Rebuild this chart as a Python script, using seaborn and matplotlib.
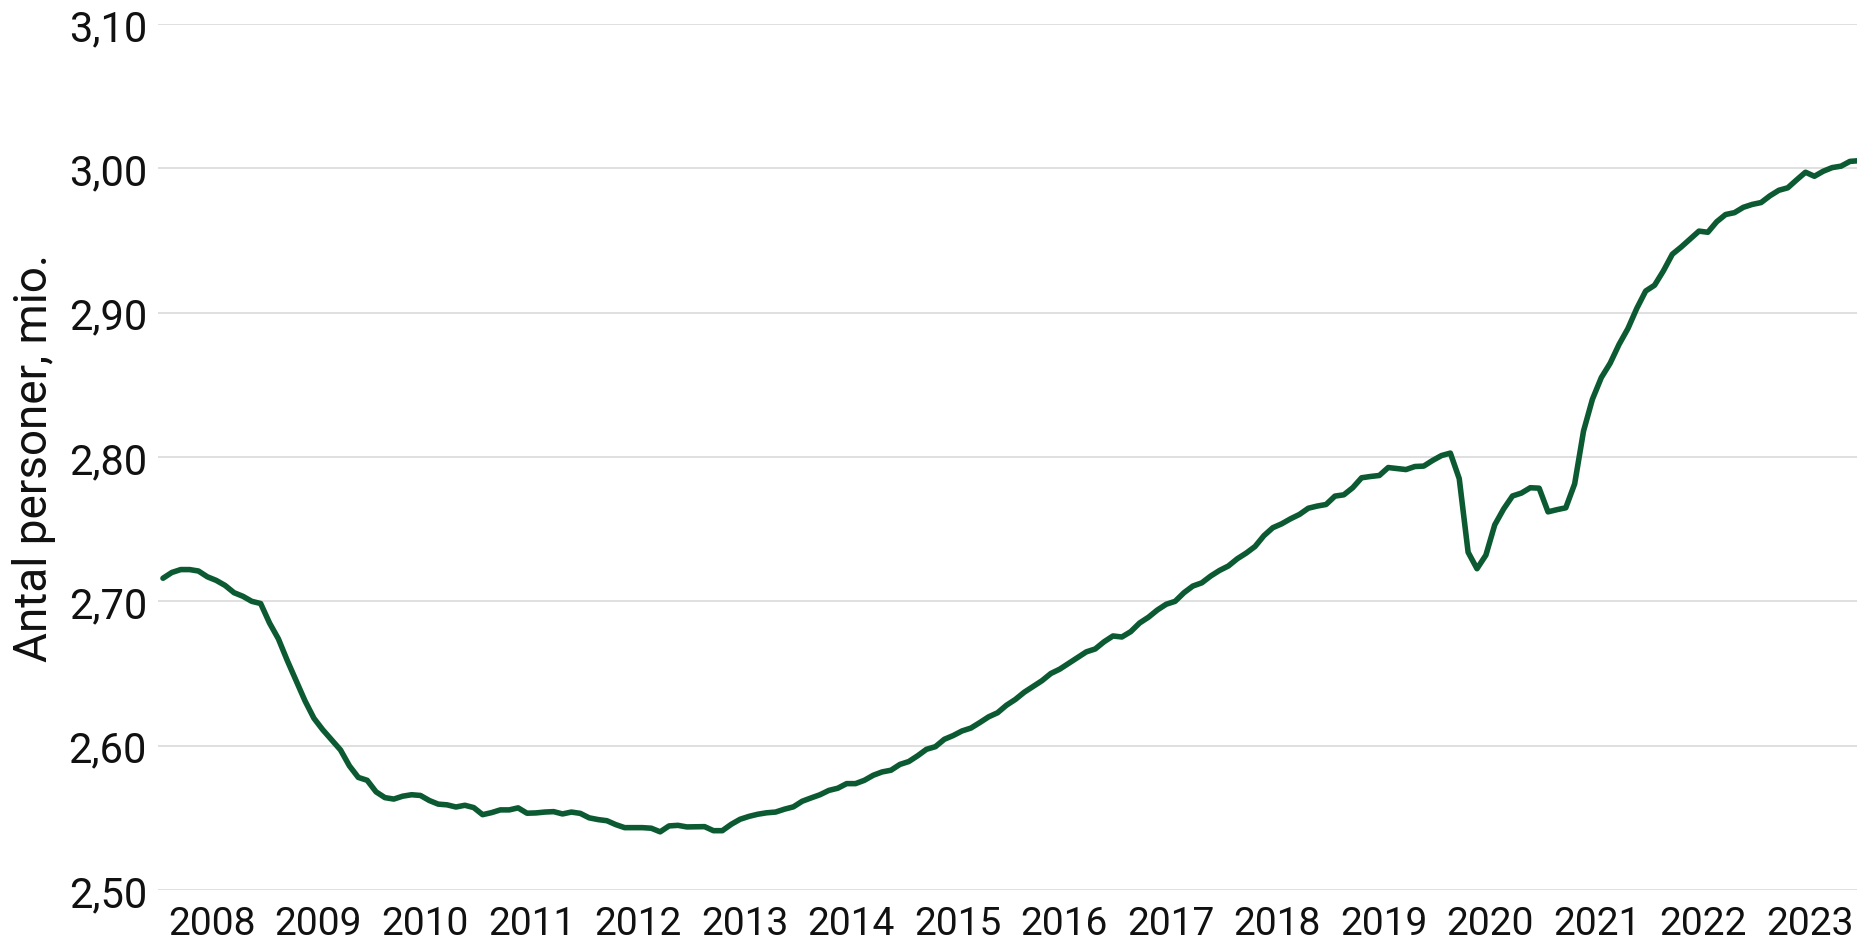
import matplotlib
matplotlib.use("Agg")
import matplotlib.pyplot as plt
from matplotlib.ticker import FuncFormatter
import numpy as np
import pandas as pd
import seaborn as sns

# Beskaeftigede, mio. personer, maanedlig jan 2008 - dec 2023
y2008 = [2.716, 2.720, 2.722, 2.722, 2.721, 2.717, 2.7145, 2.711, 2.706, 2.7035, 2.700, 2.6985]
y2009 = [2.685, 2.674, 2.659, 2.645, 2.631, 2.619, 2.611, 2.604, 2.597, 2.586, 2.578, 2.576]
y2010 = [2.568, 2.564, 2.563, 2.565, 2.566, 2.5655, 2.562, 2.5595, 2.559, 2.5575, 2.5587, 2.5571]
y2011 = [2.5522, 2.5536, 2.5555, 2.5555, 2.5569, 2.5532, 2.5534, 2.554, 2.5543, 2.5527, 2.554, 2.5531]
y2012 = [2.550, 2.5488, 2.548, 2.5453, 2.5432, 2.5432, 2.5432, 2.5428, 2.5403, 2.5444, 2.5448, 2.5437]
y2013 = [2.5438, 2.5439, 2.5411, 2.5411, 2.5455, 2.549, 2.551, 2.5525, 2.5535, 2.554, 2.556, 2.5576]
y2014 = [2.5615, 2.5638, 2.566, 2.569, 2.5705, 2.5737, 2.5737, 2.576, 2.5795, 2.5818, 2.583, 2.587]
y2015 = [2.589, 2.593, 2.5975, 2.5993, 2.6044, 2.607, 2.6102, 2.6122, 2.616, 2.620, 2.6228, 2.628]
y2016 = [2.632, 2.637, 2.641, 2.645, 2.650, 2.653, 2.657, 2.661, 2.665, 2.667, 2.672, 2.676]
y2017 = [2.6753, 2.679, 2.685, 2.689, 2.694, 2.698, 2.700, 2.706, 2.7106, 2.7128, 2.7175, 2.7214]
y2018 = [2.7245, 2.7295, 2.7334, 2.738, 2.7455, 2.751, 2.7537, 2.7572, 2.7602, 2.7645, 2.766, 2.7671]
y2019 = [2.7729, 2.7738, 2.7787, 2.7856, 2.7865, 2.7872, 2.7927, 2.792, 2.7913, 2.7934, 2.7937, 2.7976]
y2020 = [2.801, 2.8027, 2.785, 2.734, 2.7226, 2.732, 2.753, 2.764, 2.773, 2.775, 2.7787, 2.7784]
y2021 = [2.762, 2.7635, 2.7648, 2.7814, 2.818, 2.840, 2.855, 2.865, 2.878, 2.889, 2.903, 2.915]
y2022 = [2.919, 2.929, 2.9405, 2.9455, 2.951, 2.9565, 2.9557, 2.963, 2.968, 2.9693, 2.973, 2.975]
y2023 = [2.9763, 2.981, 2.9848, 2.9865, 2.992, 2.9973, 2.9945, 2.998, 3.0005, 3.0015, 3.0048, 3.0053]

years = list(range(2008, 2024))
yticks = [2.50, 2.60, 2.70, 2.80, 2.90, 3.00, 3.10]

values = (y2008 + y2009 + y2010 + y2011 + y2012 + y2013 + y2014 + y2015
          + y2016 + y2017 + y2018 + y2019 + y2020 + y2021 + y2022 + y2023)
df = pd.DataFrame({"month": np.arange(len(values)), "value": values})

sns.set_style("white")
plt.rcParams["font.family"] = ["DejaVu Sans Condensed", "Roboto", "DejaVu Sans"]

fig = plt.figure(figsize=(18.57, 9.45), dpi=100)
ax = fig.add_axes([158 / 1857, 54 / 945, 1 - 158 / 1857, 866 / 945])

sns.lineplot(data=df, x="month", y="value", ax=ax, color="#0b5a32", linewidth=4)

ax.set_xlim(-0.56, 190.8)
ax.set_ylim(2.50, 3.10)
ax.set_yticks(yticks)
ax.yaxis.set_major_formatter(FuncFormatter(lambda v, p: f"{v:.2f}".replace(".", ",")))
ax.set_xticks([5.5 + 12 * i for i in range(len(years))])
ax.set_xticklabels([str(y) for y in years])

ax.grid(axis="y", color="#dddddd", linewidth=1.3)
ax.grid(axis="x", visible=False)
for s in ax.spines.values():
    s.set_visible(False)

ax.tick_params(axis="y", length=0, pad=8, labelsize=30, labelcolor="#111111")
ax.tick_params(axis="x", length=0, pad=11, labelsize=28, labelcolor="#111111")
ax.set_xlabel("")
ax.set_ylabel("Antal personer, mio.", fontsize=33, color="#111111")
ax.yaxis.set_label_coords(-0.060, 0.5)

fig.savefig("out.png", dpi=100)
